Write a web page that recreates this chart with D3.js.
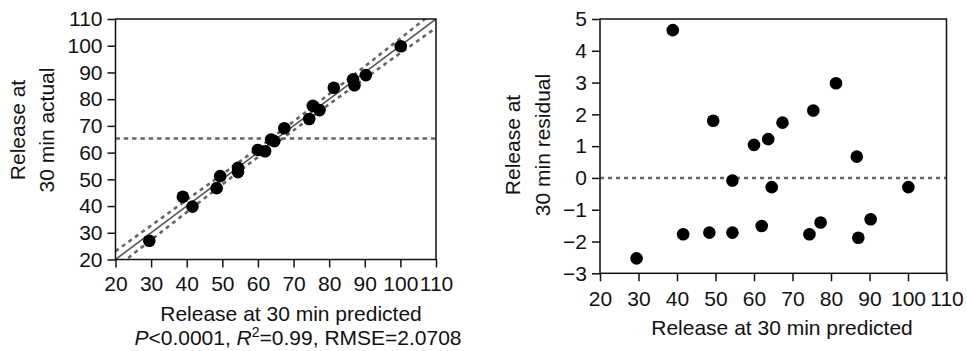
<!DOCTYPE html>
<html>
<head>
<meta charset="utf-8">
<script src="https://cdn.jsdelivr.net/npm/d3@7/dist/d3.min.js"></script>
<style>
  body { margin: 0; background: #fff; }
  text { font-family: "Liberation Sans", Arial, Helvetica, sans-serif; fill: #111; }
</style>
</head>
<body>
<svg width="967" height="351"></svg>
<script>
// values
const predicted = [29.5, 38.9, 41.6, 48.4, 49.4, 54.4, 54.4, 60.0, 62.0, 63.7, 64.6, 67.4, 74.4, 75.4, 77.3, 81.3, 86.7, 87.1, 90.3, 100.1];
const actual = [27.0, 43.5, 39.8, 46.7, 51.2, 54.3, 52.7, 61.0, 60.5, 64.9, 64.3, 69.1, 72.6, 77.5, 75.9, 84.3, 87.4, 85.2, 89.0, 99.8];
const residual = [-2.53, 4.65, -1.77, -1.72, 1.80, -0.08, -1.72, 1.04, -1.51, 1.22, -0.29, 1.74, -1.77, 2.12, -1.40, 2.98, 0.67, -1.88, -1.30, -0.29];
const meanActual = 65.3;
// confidence curves around the fit line (half width, read at a few x)
const bandX = [20, 35, 50, 65, 80, 95, 110];
const bandHalf = [3.1, 2.5, 1.9, 1.6, 1.9, 2.5, 3.3];
const xTicks = [20, 30, 40, 50, 60, 70, 80, 90, 100, 110];
const yTicksActual = [20, 30, 40, 50, 60, 70, 80, 90, 100, 110];
const yTicksResid = [-3, -2, -1, 0, 1, 2, 3, 4, 5];

const svg = d3.select('svg');
svg.append('rect').attr('width', 967).attr('height', 351).attr('fill', '#fff');

const fontSize = 21;
const dotR = 6.3;
const grey = '#666';

function drawAxes(g, x, y, yTicks, xPad) {
  const xa = g.append('g')
    .attr('transform', `translate(0,${y.range()[0]})`)
    .call(d3.axisBottom(x).tickValues(xTicks).tickSize(8).tickPadding(xPad).tickSizeOuter(0));
  const ya = g.append('g')
    .attr('transform', `translate(${x.range()[0]},0)`)
    .call(d3.axisLeft(y).tickValues(yTicks).tickSize(8).tickPadding(5).tickSizeOuter(0));
  [xa, ya].forEach(a => {
    a.selectAll('path').remove();
    a.selectAll('line').attr('stroke', '#111').attr('stroke-width', 1.5);
    a.selectAll('text').attr('font-size', fontSize).attr('font-family', null).style('fill', '#111');
  });
  // frame
  g.append('rect')
    .attr('x', x.range()[0]).attr('y', y.range()[1])
    .attr('width', x.range()[1] - x.range()[0])
    .attr('height', y.range()[0] - y.range()[1])
    .attr('fill', 'none').attr('stroke', '#111').attr('stroke-width', 1.5);
}

function yTitle(g, cx1, cx2, cy, l1, l2) {
  [[cx1, l1], [cx2, l2]].forEach(([cx, t]) => {
    g.append('text')
      .attr('transform', `translate(${cx},${cy}) rotate(-90)`)
      .attr('dy', '0.35em')
      .attr('text-anchor', 'middle')
      .attr('font-size', fontSize)
      .text(t);
  });
}

// ---------- left: actual by predicted ----------
const left = svg.append('g');
const x1 = d3.scaleLinear().domain([20, 110]).range([115.5, 436]);
const y1 = d3.scaleLinear().domain([20, 110]).range([259.5, 19]);

left.append('clipPath').attr('id', 'clipL')
  .append('rect').attr('x', 115.5).attr('y', 19).attr('width', 320.5).attr('height', 240.5);

const plotL = left.append('g').attr('clip-path', 'url(#clipL)');

plotL.append('line')
  .attr('x1', x1(20)).attr('x2', x1(110))
  .attr('y1', y1(meanActual)).attr('y2', y1(meanActual))
  .attr('stroke', grey).attr('stroke-width', 2.6).attr('stroke-dasharray', '4.5,3.8');

plotL.append('line')
  .attr('x1', x1(20)).attr('y1', y1(20))
  .attr('x2', x1(110)).attr('y2', y1(110))
  .attr('stroke', '#555').attr('stroke-width', 1.6);

const band = d3.line().curve(d3.curveNatural);
[1, -1].forEach(sgn => {
  plotL.append('path')
    .attr('d', band(bandX.map((v, i) => [x1(v), y1(v + sgn * bandHalf[i])])))
    .attr('fill', 'none')
    .attr('stroke', grey).attr('stroke-width', 2.6).attr('stroke-dasharray', '4,4');
});

plotL.selectAll('circle')
  .data(predicted)
  .enter()
  .append('circle')
  .attr('cx', d => x1(d))
  .attr('cy', (d, i) => y1(actual[i]))
  .attr('r', dotR)
  .attr('fill', '#000');

drawAxes(left, x1, y1, yTicksActual, 9);
yTitle(left, 18, 47, 130, 'Release at', '30 min actual');

left.append('text')
  .attr('x', 291).attr('y', 321)
  .attr('text-anchor', 'middle')
  .attr('font-size', fontSize)
  .text('Release at 30 min predicted');

const stats = left.append('text')
  .attr('x', 298).attr('y', 345)
  .attr('text-anchor', 'middle')
  .attr('font-size', fontSize);
stats.append('tspan').attr('font-style', 'italic').text('P');
stats.append('tspan').text('<0.0001, ');
stats.append('tspan').attr('font-style', 'italic').text('R');
stats.append('tspan').attr('font-size', 14).attr('dy', -8).text('2');
stats.append('tspan').attr('dy', 8).text('=0.99, RMSE=2.0708');

// ---------- right: residual by predicted ----------
const right = svg.append('g');
const x2 = d3.scaleLinear().domain([20, 110]).range([600, 946.5]);
const y2 = d3.scaleLinear().domain([-3, 5]).range([273.3, 19]);

right.append('line')
  .attr('x1', x2(20)).attr('x2', x2(110))
  .attr('y1', y2(0)).attr('y2', y2(0))
  .attr('stroke', grey).attr('stroke-width', 2.6).attr('stroke-dasharray', '4,4');

right.selectAll('circle')
  .data(predicted)
  .enter()
  .append('circle')
  .attr('cx', d => x2(d))
  .attr('cy', (d, i) => y2(residual[i]))
  .attr('r', dotR)
  .attr('fill', '#000');

drawAxes(right, x2, y2, yTicksResid, 9.5);
yTitle(right, 513, 543, 145, 'Release at', '30 min residual');

right.append('text')
  .attr('x', 782).attr('y', 335)
  .attr('text-anchor', 'middle')
  .attr('font-size', fontSize)
  .text('Release at 30 min predicted');
</script>
</body>
</html>
